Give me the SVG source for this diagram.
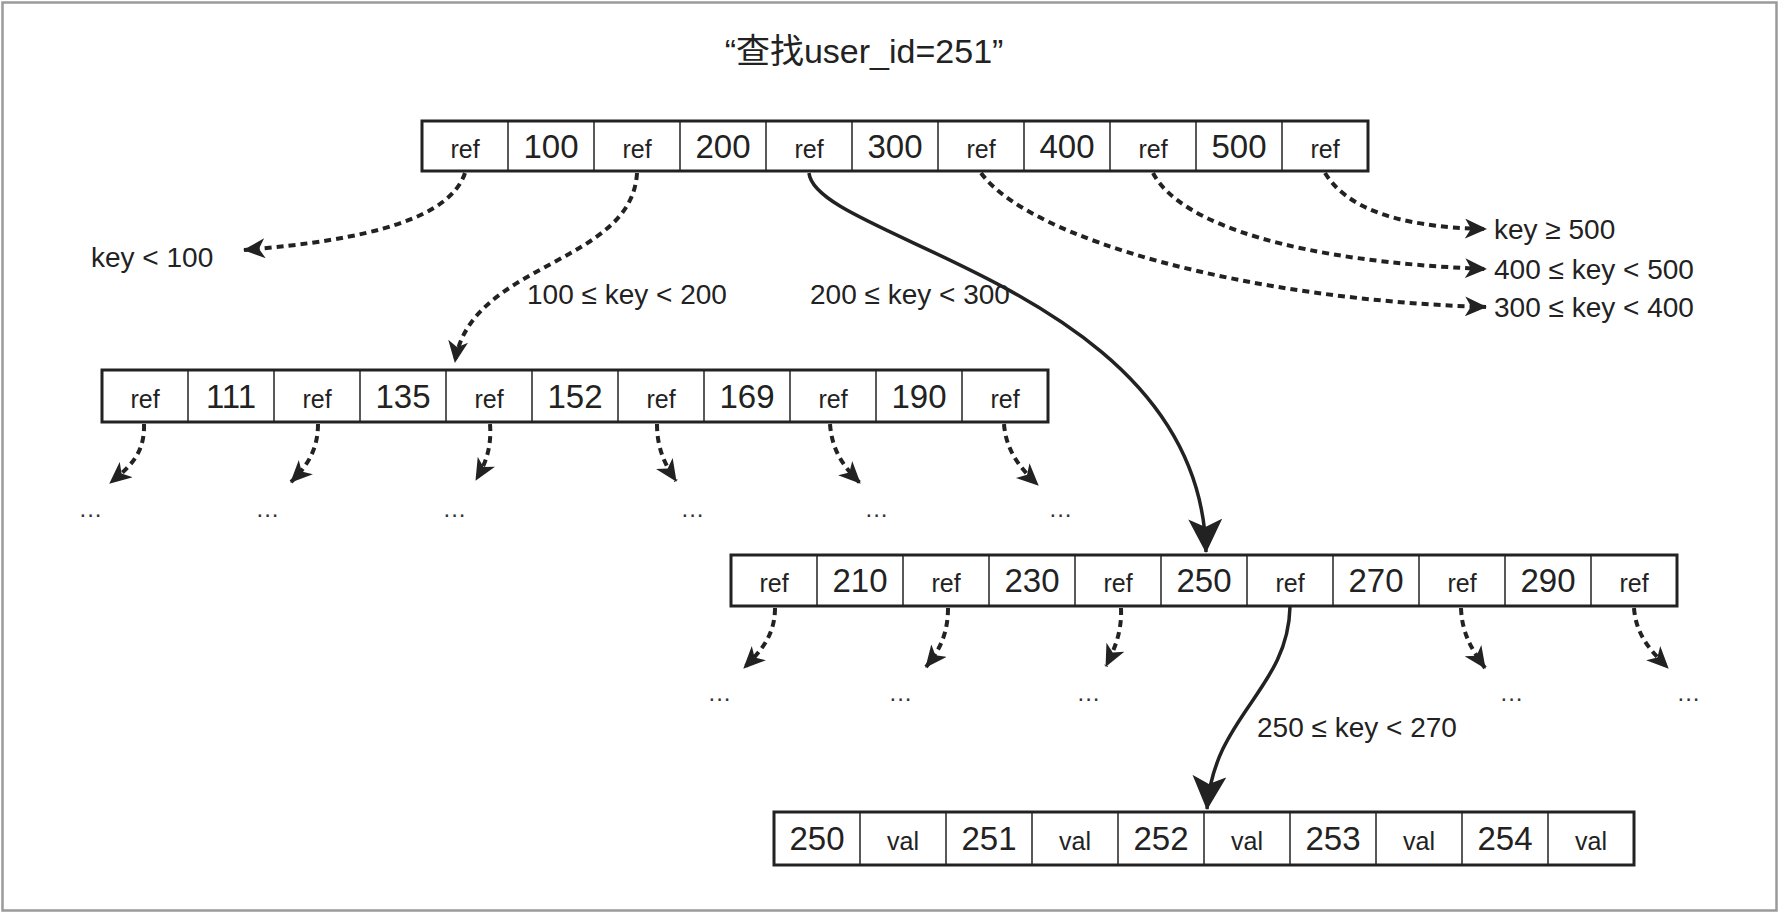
<svg xmlns="http://www.w3.org/2000/svg" width="1780" height="913" viewBox="0 0 1780 913">
<style>
.box{fill:#fff;stroke:#222;stroke-width:3}
.sep{stroke:#222;stroke-width:1.5}
.num{font-family:"Liberation Sans",Arial,sans-serif;font-size:33px;fill:#222;text-anchor:middle}
.ref{font-family:"Liberation Sans",Arial,sans-serif;font-size:25px;fill:#222;text-anchor:middle}
.lbl{font-family:"Liberation Sans",Arial,sans-serif;font-size:28px;fill:#222}
.dots{font-family:"Liberation Sans",Arial,sans-serif;font-size:24px;fill:#333;text-anchor:middle;letter-spacing:1px}
.title{font-family:"Liberation Sans","Noto Sans CJK SC",sans-serif;font-size:34px;fill:#222;text-anchor:middle}
.dash{fill:none;stroke:#222;stroke-width:4;stroke-dasharray:7 5;marker-end:url(#ah)}
.solid{fill:none;stroke:#222;stroke-width:3.5;marker-end:url(#big)}
</style>
<defs>
<marker id="ah" viewBox="0 0 22 20" refX="21" refY="10" markerWidth="22" markerHeight="20" markerUnits="userSpaceOnUse" orient="auto">
<path d="M0,0 L22,10 L0,20 L6,10 z" fill="#222"/>
</marker>
<marker id="big" viewBox="0 0 34 34" refX="33" refY="17" markerWidth="34" markerHeight="34" markerUnits="userSpaceOnUse" orient="auto">
<path d="M0,0 L34,17 L0,34 L8,17 z" fill="#222"/>
</marker>
</defs>
<rect x="0" y="0" width="1780" height="913" fill="#fff"/>
<rect x="2.5" y="2.5" width="1774" height="908" fill="none" stroke="#9a9a9a" stroke-width="2.5"/>

<text class="title" x="864" y="63">“查找user_id=251”</text>

<g id="root">
<rect class="box" x="422" y="121" width="946" height="50"/>
<g class="sep">
<line x1="508" y1="121" x2="508" y2="171"/><line x1="594" y1="121" x2="594" y2="171"/><line x1="680" y1="121" x2="680" y2="171"/><line x1="766" y1="121" x2="766" y2="171"/><line x1="852" y1="121" x2="852" y2="171"/><line x1="938" y1="121" x2="938" y2="171"/><line x1="1024" y1="121" x2="1024" y2="171"/><line x1="1110" y1="121" x2="1110" y2="171"/><line x1="1196" y1="121" x2="1196" y2="171"/><line x1="1282" y1="121" x2="1282" y2="171"/>
</g>
<text class="ref" x="465" y="158">ref</text><text class="num" x="551" y="158">100</text>
<text class="ref" x="637" y="158">ref</text><text class="num" x="723" y="158">200</text>
<text class="ref" x="809" y="158">ref</text><text class="num" x="895" y="158">300</text>
<text class="ref" x="981" y="158">ref</text><text class="num" x="1067" y="158">400</text>
<text class="ref" x="1153" y="158">ref</text><text class="num" x="1239" y="158">500</text>
<text class="ref" x="1325" y="158">ref</text>
</g>

<g id="node-100-200">
<rect class="box" x="102" y="370" width="946" height="52"/>
<g class="sep">
<line x1="188" y1="370" x2="188" y2="422"/><line x1="274" y1="370" x2="274" y2="422"/><line x1="360" y1="370" x2="360" y2="422"/><line x1="446" y1="370" x2="446" y2="422"/><line x1="532" y1="370" x2="532" y2="422"/><line x1="618" y1="370" x2="618" y2="422"/><line x1="704" y1="370" x2="704" y2="422"/><line x1="790" y1="370" x2="790" y2="422"/><line x1="876" y1="370" x2="876" y2="422"/><line x1="962" y1="370" x2="962" y2="422"/>
</g>
<text class="ref" x="145" y="408">ref</text><text class="num" x="231" y="408">111</text>
<text class="ref" x="317" y="408">ref</text><text class="num" x="403" y="408">135</text>
<text class="ref" x="489" y="408">ref</text><text class="num" x="575" y="408">152</text>
<text class="ref" x="661" y="408">ref</text><text class="num" x="747" y="408">169</text>
<text class="ref" x="833" y="408">ref</text><text class="num" x="919" y="408">190</text>
<text class="ref" x="1005" y="408">ref</text>
</g>

<g id="node-200-300">
<rect class="box" x="731" y="555" width="946" height="51"/>
<g class="sep">
<line x1="817" y1="555" x2="817" y2="606"/><line x1="903" y1="555" x2="903" y2="606"/><line x1="989" y1="555" x2="989" y2="606"/><line x1="1075" y1="555" x2="1075" y2="606"/><line x1="1161" y1="555" x2="1161" y2="606"/><line x1="1247" y1="555" x2="1247" y2="606"/><line x1="1333" y1="555" x2="1333" y2="606"/><line x1="1419" y1="555" x2="1419" y2="606"/><line x1="1505" y1="555" x2="1505" y2="606"/><line x1="1591" y1="555" x2="1591" y2="606"/>
</g>
<text class="ref" x="774" y="592">ref</text><text class="num" x="860" y="592">210</text>
<text class="ref" x="946" y="592">ref</text><text class="num" x="1032" y="592">230</text>
<text class="ref" x="1118" y="592">ref</text><text class="num" x="1204" y="592">250</text>
<text class="ref" x="1290" y="592">ref</text><text class="num" x="1376" y="592">270</text>
<text class="ref" x="1462" y="592">ref</text><text class="num" x="1548" y="592">290</text>
<text class="ref" x="1634" y="592">ref</text>
</g>

<g id="leaf-250">
<rect class="box" x="774" y="812" width="860" height="53"/>
<g class="sep">
<line x1="860" y1="812" x2="860" y2="865"/><line x1="946" y1="812" x2="946" y2="865"/><line x1="1032" y1="812" x2="1032" y2="865"/><line x1="1118" y1="812" x2="1118" y2="865"/><line x1="1204" y1="812" x2="1204" y2="865"/><line x1="1290" y1="812" x2="1290" y2="865"/><line x1="1376" y1="812" x2="1376" y2="865"/><line x1="1462" y1="812" x2="1462" y2="865"/><line x1="1548" y1="812" x2="1548" y2="865"/>
</g>
<text class="num" x="817" y="850">250</text><text class="ref" x="903" y="850">val</text>
<text class="num" x="989" y="850">251</text><text class="ref" x="1075" y="850">val</text>
<text class="num" x="1161" y="850">252</text><text class="ref" x="1247" y="850">val</text>
<text class="num" x="1333" y="850">253</text><text class="ref" x="1419" y="850">val</text>
<text class="num" x="1505" y="850">254</text><text class="ref" x="1591" y="850">val</text>
</g>

<g id="connectors">
<path class="dash" d="M465,173 C450,218 370,240 244,250"/>
<path class="dash" d="M637,173 C632,265 470,262 455,362"/>
<path class="solid" d="M809,173 C815,240 1200,290 1206,552"/>
<path class="dash" d="M981,173 C1030,240 1250,300 1486,307"/>
<path class="dash" d="M1153,173 C1180,225 1300,262 1486,269"/>
<path class="dash" d="M1325,173 C1345,205 1390,227 1486,229"/>

<path class="dash" d="M144,424 C145,455 128,468 110,483"/>
<path class="dash" d="M318,424 C318,452 305,468 291,482"/>
<path class="dash" d="M490,424 C492,450 484,466 476,480"/>
<path class="dash" d="M657,424 C657,450 666,466 676,481"/>
<path class="dash" d="M830,424 C832,452 845,468 860,483"/>
<path class="dash" d="M1004,424 C1006,452 1022,470 1038,485"/>

<path class="dash" d="M775,608 C775,636 760,652 744,668"/>
<path class="dash" d="M948,608 C948,636 938,652 926,667"/>
<path class="dash" d="M1121,608 C1122,633 1114,650 1106,666"/>
<path class="solid" d="M1290,607 C1288,690 1214,715 1207,809"/>
<path class="dash" d="M1461,608 C1462,636 1474,652 1485,668"/>
<path class="dash" d="M1634,608 C1636,636 1652,652 1668,668"/>
</g>

<g id="labels">
<text class="lbl" x="91" y="267">key &lt; 100</text>
<text class="lbl" x="527" y="304">100 ≤ key &lt; 200</text>
<text class="lbl" x="810" y="304">200 ≤ key &lt; 300</text>
<text class="lbl" x="1494" y="239">key ≥ 500</text>
<text class="lbl" x="1494" y="279">400 ≤ key &lt; 500</text>
<text class="lbl" x="1494" y="317">300 ≤ key &lt; 400</text>
<text class="lbl" x="1257" y="737">250 ≤ key &lt; 270</text>
</g>

<g id="ellipses">
<text class="dots" x="91" y="517">...</text>
<text class="dots" x="268" y="517">...</text>
<text class="dots" x="455" y="517">...</text>
<text class="dots" x="693" y="517">...</text>
<text class="dots" x="877" y="517">...</text>
<text class="dots" x="1061" y="517">...</text>
<text class="dots" x="720" y="701">...</text>
<text class="dots" x="901" y="701">...</text>
<text class="dots" x="1089" y="701">...</text>
<text class="dots" x="1512" y="701">...</text>
<text class="dots" x="1689" y="701">...</text>
</g>
</svg>
